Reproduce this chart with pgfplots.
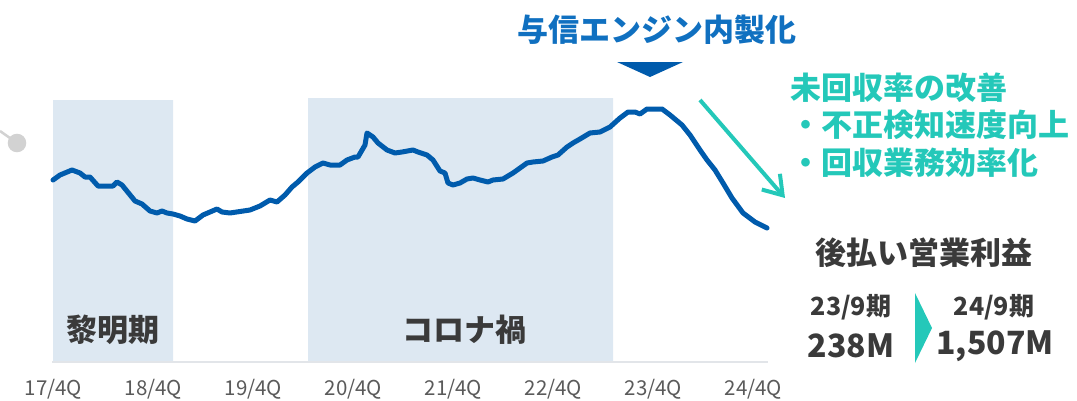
\documentclass[border=0pt]{standalone}
\usepackage{fontspec}
\usepackage{pgfplots}
\pgfplotsset{compat=1.18}
\usetikzlibrary{arrows.meta}
\setmainfont{Noto Sans CJK JP}
\definecolor{lineblue}{RGB}{0,91,172}
\definecolor{titleblue}{RGB}{16,112,192}
\definecolor{shade}{RGB}{221,232,242}
\definecolor{tealc}{RGB}{36,200,185}
\definecolor{darktxt}{RGB}{58,58,58}
\definecolor{tickgray}{RGB}{90,90,90}
\definecolor{dotgray}{RGB}{210,210,210}
\definecolor{basegray}{RGB}{226,229,233}
\pgfplotstableread{
px  v
53 220
60 225
72 230
80 227
85 223
90 223
98 214
113 214
117 218
122 215
135 199
142 196
150 189
157 187
162 189
167 187
173 186
180 184
187 181
195 179
203 185
217 191
222 188
230 187
250 190
260 194
270 200
277 198
285 205
292 213
298 218
307 227
315 233
323 237
330 235
340 235
347 240
355 243
358 243
365 255
367 267
373 263
378 257
387 250
395 247
402 248
413 250
418 248
427 245
433 240
440 229
445 227
448 217
453 215
460 217
467 221
473 222
480 220
488 218
493 220
503 221
513 227
520 232
527 237
533 238
543 239
552 243
558 245
567 253
573 257
580 261
590 267
600 268
610 273
620 282
628 288
635 288
640 286
647 291
662 291
670 285
682 275
690 265
700 250
707 240
715 230
723 217
732 202
743 187
755 178
767 172
}\mainline
\begin{document}
\begin{tikzpicture}
\path[use as bounding box] (0,-39pt) rectangle (1077pt,361pt);
\begin{axis}[
  x=1pt, y=1pt,
  xmin=0, xmax=1077, ymin=39, ymax=400,
  clip=false,
  axis line style={draw=none},
  ytick=\empty,
  major tick length=0pt,
  xtick={53.5,153.5,253.5,353.5,453.5,553.5,653.5,753.5},
  xticklabels={17/4Q,18/4Q,19/4Q,20/4Q,21/4Q,22/4Q,23/4Q,24/4Q},
  xticklabel style={font=\fontsize{20.5}{22}\selectfont, text=tickgray, anchor=center, inner sep=0pt, yshift=-28pt},
]
% shaded periods
\addplot[draw=none, fill=shade] coordinates {(53,39) (173,39) (173,300) (53,300) (53,39)};
\addplot[draw=none, fill=shade] coordinates {(308,39) (613,39) (613,302) (308,302) (308,39)};
% baseline
\addplot[basegray, line width=2pt] coordinates {(52,38) (768,38)};
% cropped grey marker at left edge
\addplot[dotgray, line width=2.5pt, mark=*, mark size=8pt, mark options={fill=dotgray, draw=none}, mark indices={2}] coordinates {(0,269) (17,257)};
% main line
\addplot[lineblue, line width=5pt, line join=round, line cap=round] table[x=px, y=v] {\mainline};
% annotations
\node[font=\fontsize{31}{34}\selectfont\bfseries, text=titleblue, inner sep=0pt] at (axis cs:657,370) {与信エンジン内製化};
\fill[lineblue] (axis cs:617,338) -- (axis cs:683,338) -- (axis cs:650,323) -- cycle;
\draw[tealc, line width=4pt, -{Straight Barb[length=18pt, width=24pt]}] (axis cs:700,300) -- (axis cs:785,202);
\node[font=\fontsize{31}{34}\selectfont\bfseries, text=tealc, inner sep=0pt, anchor=west] at (axis cs:790,312) {未回収率の改善};
\node[font=\fontsize{31}{34}\selectfont\bfseries, text=tealc, inner sep=0pt, anchor=west] at (axis cs:790,275) {・不正検知速度向上};
\node[font=\fontsize{31}{34}\selectfont\bfseries, text=tealc, inner sep=0pt, anchor=west] at (axis cs:790,237) {・回収業務効率化};
\node[font=\fontsize{31}{34}\selectfont\bfseries, text=darktxt, inner sep=0pt] at (axis cs:924,147) {後払い営業利益};
\node[font=\fontsize{25}{28}\selectfont\bfseries, text=darktxt, inner sep=0pt] at (axis cs:851,93) {23/9期};
\node[font=\fontsize{25}{28}\selectfont\bfseries, text=darktxt, inner sep=0pt] at (axis cs:994,93) {24/9期};
\node[font=\fontsize{32}{36}\selectfont\bfseries, text=darktxt, inner sep=0pt] at (axis cs:851,54) {238M};
\node[font=\fontsize{32}{36}\selectfont\bfseries, text=darktxt, inner sep=0pt] at (axis cs:995,54) {1,507M};
\fill[tealc] (axis cs:915,107) -- (axis cs:915,37) -- (axis cs:932,72) -- cycle;
\node[font=\fontsize{31}{34}\selectfont\bfseries, text=darktxt, inner sep=0pt] at (axis cs:113,70) {黎明期};
\node[font=\fontsize{31}{34}\selectfont\bfseries, text=darktxt, inner sep=0pt] at (axis cs:464,70) {コロナ禍};
\end{axis}
\end{tikzpicture}
\end{document}
